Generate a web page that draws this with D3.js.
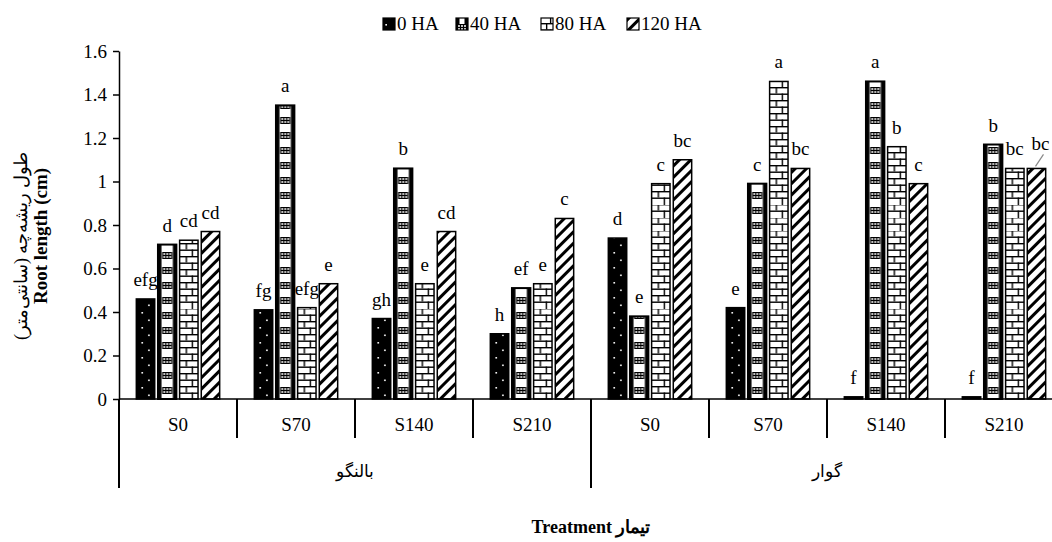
<!DOCTYPE html>
<html>
<head>
<meta charset="utf-8">
<script src="https://cdn.jsdelivr.net/npm/d3@7"></script>
<style>
body { margin: 0; background: #fff; }
text { font-family: "Liberation Serif", "Times New Roman", serif; fill: #000; }
</style>
</head>
<body>
<div id="chart"></div>
<script>
// categories
var salts = ['S0', 'S70', 'S140', 'S210'];
var cultivars = ['بالنگو', 'گوار'];
var series = ['0 HA', '40 HA', '80 HA', '120 HA'];

// root length (cm), 8 values each: بالنگو S0..S210 then گوار S0..S210
var ha0 = [0.46, 0.41, 0.37, 0.30, 0.74, 0.42, 0.01, 0.01];
var ha40 = [0.71, 1.35, 1.06, 0.51, 0.38, 0.99, 1.46, 1.17];
var ha80 = [0.73, 0.42, 0.53, 0.53, 0.99, 1.46, 1.16, 1.06];
var ha120 = [0.77, 0.53, 0.77, 0.83, 1.10, 1.06, 0.99, 1.06];

// mean comparison letters
var let0 = ['efg', 'fg', 'gh', 'h', 'd', 'e', 'f', 'f'];
var let40 = ['d', 'a', 'b', 'ef', 'e', 'c', 'a', 'b'];
var let80 = ['cd', 'efg', 'e', 'e', 'c', 'a', 'b', 'bc'];
var let120 = ['cd', 'e', 'cd', 'c', 'bc', 'bc', 'c', 'bc'];

var yTicks = [0, 0.2, 0.4, 0.6, 0.8, 1, 1.2, 1.4, 1.6];

var width = 1052,
    height = 542;

var values = [ha0, ha40, ha80, ha120];
var letters = [let0, let40, let80, let120];

var svg = d3.select('#chart').append('svg')
    .attr('width', width)
    .attr('height', height);

var defs = svg.append('defs');

var groupKeys = [];
cultivars.forEach(function (c) {
    salts.forEach(function (s) {
        groupKeys.push(c + '|' + s);
    });
});

var xGroup = d3.scaleBand().domain(groupKeys).range([119, 1063]);
var xSeries = d3.scaleBand().domain(series)
    .range([0, xGroup.bandwidth()])
    .paddingInner(0.15)
    .paddingOuter(0.8);
var y = d3.scaleLinear().domain([0, 1.6]).range([399, 51]);

// stripes pattern (120 HA)
var ps = defs.append('pattern')
    .attr('id', 'pat3')
    .attr('patternUnits', 'userSpaceOnUse')
    .attr('width', 8).attr('height', 8)
    .attr('patternTransform', 'rotate(45)');
ps.append('rect').attr('width', 8).attr('height', 8).attr('fill', '#fff');
ps.append('rect').attr('width', 3).attr('height', 8).attr('fill', '#000');

// patterns aligned to each bar
function makePattern(id, si, x0, y0, w) {
    if (si === 3) return 'url(#pat3)';
    var p = defs.append('pattern')
        .attr('id', id)
        .attr('patternUnits', 'userSpaceOnUse')
        .attr('x', x0).attr('y', y0)
        .attr('width', w);
    if (si === 0) {
        p.attr('height', 15);
        p.append('rect').attr('width', w).attr('height', 15).attr('fill', '#000');
        p.append('rect').attr('x', w * 0.28).attr('y', 3).attr('width', 1.6).attr('height', 1.6).attr('fill', '#fff');
        p.append('rect').attr('x', w * 0.64).attr('y', 10.5).attr('width', 1.6).attr('height', 1.6).attr('fill', '#fff');
    } else if (si === 1) {
        p.attr('height', 15);
        p.append('rect').attr('width', w).attr('height', 15).attr('fill', '#fff');
        p.append('rect').attr('width', 3.5).attr('height', 15).attr('fill', '#000');
        p.append('rect').attr('x', w - 3.5).attr('width', 3.5).attr('height', 15).attr('fill', '#000');
        p.append('rect').attr('x', w / 2 - 5).attr('y', 3).attr('width', 10).attr('height', 7).attr('fill', '#000');
        [-3, 0, 3].forEach(function (dx) {
            [5, 8].forEach(function (dy) {
                p.append('circle').attr('cx', w / 2 + dx).attr('cy', dy).attr('r', 1).attr('fill', '#fff');
            });
        });
    } else {
        p.attr('height', 13);
        p.append('rect').attr('width', w).attr('height', 13).attr('fill', '#fff');
        p.append('rect').attr('y', 0).attr('width', w).attr('height', 1.4).attr('fill', '#000');
        p.append('rect').attr('y', 6.5).attr('width', w).attr('height', 1.4).attr('fill', '#000');
        p.append('rect').attr('x', w * 0.33).attr('y', 0).attr('width', 1.4).attr('height', 6.5).attr('fill', '#000');
        p.append('rect').attr('x', w * 0.66).attr('y', 6.5).attr('width', 1.4).attr('height', 6.5).attr('fill', '#000');
    }
    return 'url(#' + id + ')';
}

// flat data
var bars = [];
groupKeys.forEach(function (g, gi) {
    series.forEach(function (s, si) {
        bars.push({ g: g, gi: gi, s: s, si: si, v: values[si][gi], l: letters[si][gi] });
    });
});

// bars
svg.append('g').selectAll('rect')
    .data(bars)
    .enter().append('rect')
    .attr('x', function (d) { return xGroup(d.g) + xSeries(d.s); })
    .attr('y', function (d) { return y(d.v); })
    .attr('width', xSeries.bandwidth())
    .attr('height', function (d) { return y(0) - y(d.v); })
    .attr('fill', function (d) {
        return makePattern('p' + d.si + '_' + d.gi, d.si, xGroup(d.g) + xSeries(d.s), 399, xSeries.bandwidth());
    })
    .attr('stroke', '#000')
    .attr('stroke-width', function (d) { return d.si === 1 ? 2 : 1.5; });

// letters (the last one sits to the right with a leader)
function isLast(d) { return d.gi === 7 && d.si === 3; }
svg.append('g').selectAll('text')
    .data(bars)
    .enter().append('text')
    .attr('x', function (d) {
        var cx = xGroup(d.g) + xSeries(d.s) + xSeries.bandwidth() / 2;
        return isLast(d) ? cx - 5 : cx;
    })
    .attr('y', function (d) {
        return isLast(d) ? y(d.v) - 18 : y(d.v) - 13;
    })
    .attr('text-anchor', function (d) { return isLast(d) ? 'start' : 'middle'; })
    .style('font-size', '19px')
    .text(function (d) { return d.l; });

var last = bars[bars.length - 1];
var lx = xGroup(last.g) + xSeries(last.s) + xSeries.bandwidth() / 2;
svg.append('line')
    .attr('x1', lx - 1).attr('y1', y(last.v) - 2)
    .attr('x2', lx + 7).attr('y2', y(last.v) - 14)
    .attr('stroke', '#888').attr('stroke-width', 1.2);

// y axis
var yAxis = svg.append('g')
    .attr('transform', 'translate(119,0)')
    .call(d3.axisLeft(y).tickValues(yTicks).tickSize(6).tickSizeOuter(0).tickPadding(6)
        .tickFormat(function (d) { return d3.format('~g')(d); }));
yAxis.select('.domain').attr('stroke', '#000').attr('stroke-width', 1.5);
yAxis.selectAll('.tick line').attr('stroke', '#000').attr('stroke-width', 1.5);
yAxis.selectAll('.tick text')
    .style('font-family', '"Liberation Serif", "Times New Roman", serif')
    .style('font-size', '19px')
    .attr('fill', '#000');

// category axis
var cat = svg.append('g');
cat.append('line')
    .attr('x1', 119).attr('x2', 1063)
    .attr('y1', y(0)).attr('y2', y(0))
    .attr('stroke', '#000').attr('stroke-width', 1.5);

var bounds = groupKeys.map(function (g) { return xGroup(g); }).concat([xGroup.range()[1]]);
cat.selectAll('line.div')
    .data(bounds)
    .enter().append('line')
    .attr('class', 'div')
    .attr('x1', function (d) { return d; })
    .attr('x2', function (d) { return d; })
    .attr('y1', y(0))
    .attr('y2', function (d, i) { return i % 4 === 0 ? 488 : 438; })
    .attr('stroke', '#000').attr('stroke-width', 2);

cat.selectAll('text.salt')
    .data(groupKeys)
    .enter().append('text')
    .attr('class', 'salt')
    .attr('x', function (d) { return xGroup(d) + xGroup.bandwidth() / 2; })
    .attr('y', 431)
    .attr('text-anchor', 'middle')
    .style('font-size', '19px')
    .text(function (d) { return d.split('|')[1]; });

cat.selectAll('text.cult')
    .data(cultivars)
    .enter().append('text')
    .attr('class', 'cult')
    .attr('x', function (d, i) {
        return (xGroup(groupKeys[i * 4]) + xGroup(groupKeys[i * 4 + 3]) + xGroup.bandwidth()) / 2;
    })
    .attr('y', 477)
    .attr('text-anchor', 'middle')
    .style('font-size', '17px')
    .text(function (d) { return d; });

// axis titles
svg.append('text')
    .attr('transform', 'translate(27,246) rotate(-90)')
    .attr('text-anchor', 'middle')
    .attr('direction', 'rtl')
    .style('font-size', '18px')
    .style('letter-spacing', '0.5px')
    .text('طول ریشه‌چه (سانتی‌متر)');
svg.append('text')
    .attr('transform', 'translate(47,236) rotate(-90)')
    .attr('text-anchor', 'middle')
    .style('font-size', '19px')
    .style('font-weight', 'bold')
    .text('Root length (cm)');

svg.append('text')
    .attr('x', 591)
    .attr('y', 533)
    .attr('text-anchor', 'middle')
    .style('font-size', '18px')
    .style('font-weight', 'bold')
    .text('Treatment تیمار');

// legend
var legendX = [383, 456, 541, 627];
var legend = svg.append('g').selectAll('g')
    .data(series)
    .enter().append('g')
    .attr('transform', function (d, i) { return 'translate(' + legendX[i] + ',18)'; });
legend.append('rect')
    .attr('width', 12).attr('height', 12)
    .attr('fill', function (d, i) { return makePattern('lg' + i, i, legendX[i], 18, 12); })
    .attr('stroke', '#000').attr('stroke-width', 1.2);
legend.append('text')
    .attr('x', 14)
    .attr('y', 12)
    .style('font-size', '19px')
    .text(function (d) { return d; });
</script>
</body>
</html>
